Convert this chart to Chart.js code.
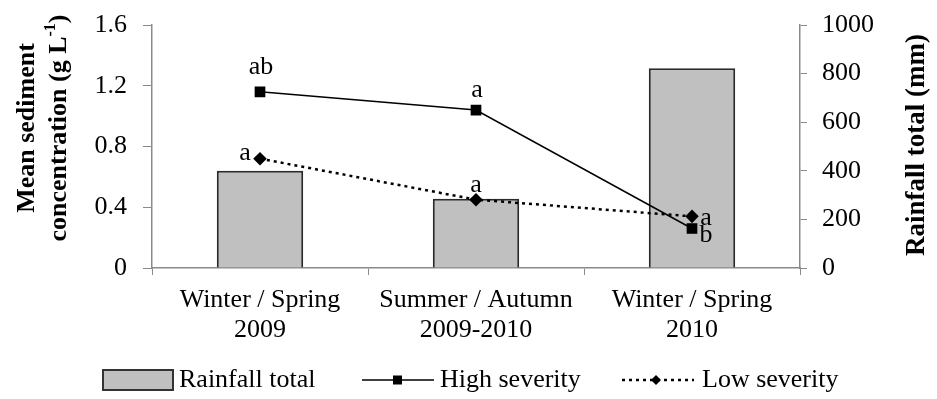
<!DOCTYPE html>
<html>
<head>
<meta charset="utf-8">
<script src="https://cdn.jsdelivr.net/npm/chart.js@4.4.0/dist/chart.umd.min.js"></script>
<style>
  body { margin: 0; background: #fff; }
  canvas { display: block; }
</style>
</head>
<body>
<canvas id="chart" width="937" height="399"></canvas>
<script>
// data
const seasons = [['Winter / Spring', '2009'], ['Summer / Autumn', '2009-2010'], ['Winter / Spring', '2010']];
const rainfall = [400, 285, 822];
const highSeverity = [1.16, 1.04, 0.26];
const lowSeverity = [0.72, 0.45, 0.34];
const highLetters = ['ab', 'a', 'b'];
const lowLetters = ['a', 'a', 'a'];
const sedimentTicks = [0, 0.4, 0.8, 1.2, 1.6];
const rainTicks = [0, 200, 400, 600, 800, 1000];

const SERIF = "'Liberation Serif', 'Times New Roman', serif";
const axisGray = '#8a8a8a';

// letters next to the points, offsets in px from each point
const letterOffsets = {
    1: [[1, -25], [1, -20], [14, 7]],
    2: [[-15, -5], [0, -14], [14, 2]]
};

const extras = {
    id: 'extras',
    afterDatasetsDraw(chart) {
        const ctx = chart.ctx;
        ctx.save();
        ctx.fillStyle = '#000';
        ctx.font = '26px ' + SERIF;
        ctx.textAlign = 'center';
        ctx.textBaseline = 'middle';
        [[1, highLetters], [2, lowLetters]].forEach(([idx, letters]) => {
            const meta = chart.getDatasetMeta(idx);
            meta.data.forEach((pt, i) => {
                const off = letterOffsets[idx][i];
                ctx.fillText(letters[i], pt.x + off[0], pt.y + off[1]);
            });
        });
        ctx.restore();
    },
    afterDraw(chart) {
        const ctx = chart.ctx;
        ctx.save();
        ctx.fillStyle = '#000';

        // left title, two lines, rotated
        ctx.save();
        ctx.translate(27, 128);
        ctx.rotate(-Math.PI / 2);
        ctx.font = 'bold 26px ' + SERIF;
        ctx.textAlign = 'center';
        ctx.textBaseline = 'middle';
        ctx.fillText('Mean sediment', 0, 0);
        // second line with superscript
        const a = 'concentration (g L', sup = '-1', b = ')';
        const wa = ctx.measureText(a).width;
        ctx.font = 'bold 16px ' + SERIF;
        const ws = ctx.measureText(sup).width;
        ctx.font = 'bold 26px ' + SERIF;
        const wb = ctx.measureText(b).width;
        let x0 = -(wa + ws + wb) / 2;
        ctx.textAlign = 'left';
        ctx.fillText(a, x0, 32);
        ctx.font = 'bold 16px ' + SERIF;
        ctx.fillText(sup, x0 + wa, 24);
        ctx.font = 'bold 26px ' + SERIF;
        ctx.fillText(b, x0 + wa + ws, 32);
        ctx.restore();

        // right title
        ctx.save();
        ctx.translate(917, 145);
        ctx.rotate(-Math.PI / 2);
        ctx.font = 'bold 27px ' + SERIF;
        ctx.textAlign = 'center';
        ctx.textBaseline = 'middle';
        ctx.fillText('Rainfall total (mm)', 0, 0);
        ctx.restore();

        // legend
        const ly = 380;
        ctx.font = '26px ' + SERIF;
        ctx.textAlign = 'left';
        ctx.textBaseline = 'middle';

        ctx.fillStyle = '#c0c0c0';
        ctx.fillRect(103, ly - 10, 70, 20);
        ctx.strokeStyle = '#333';
        ctx.lineWidth = 2;
        ctx.strokeRect(103, ly - 10, 70, 20);
        ctx.fillStyle = '#000';
        ctx.fillText('Rainfall total', 179, ly);

        ctx.strokeStyle = '#000';
        ctx.lineWidth = 1.5;
        ctx.beginPath();
        ctx.moveTo(362, ly);
        ctx.lineTo(434, ly);
        ctx.stroke();
        ctx.fillRect(393, ly - 4.5, 9, 9);
        ctx.fillText('High severity', 440, ly);

        ctx.lineWidth = 2.5;
        ctx.setLineDash([3, 4]);
        ctx.beginPath();
        ctx.moveTo(622, ly);
        ctx.lineTo(694, ly);
        ctx.stroke();
        ctx.setLineDash([]);
        ctx.beginPath();
        ctx.moveTo(656, ly - 5);
        ctx.lineTo(661, ly);
        ctx.lineTo(656, ly + 5);
        ctx.lineTo(651, ly);
        ctx.closePath();
        ctx.fill();
        ctx.fillText('Low severity', 702, ly);

        ctx.restore();
    }
};

// fixed axis box sizes so the plot area sits where it does in the figure
function fixY(width) {
    return s => {
        s.width = width;
        s.paddingTop = 0;
        s.paddingBottom = 0;
    };
}

new Chart(document.getElementById('chart'), {
    type: 'bar',
    data: {
        labels: seasons,
        datasets: [{
            label: 'Rainfall total',
            data: rainfall,
            yAxisID: 'y1',
            backgroundColor: '#c0c0c0',
            borderColor: '#2a2a2a',
            borderWidth: 2,
            barPercentage: 0.4,
            categoryPercentage: 1,
            order: 3
        },
        {
            type: 'line',
            label: 'High severity',
            data: highSeverity,
            yAxisID: 'y',
            borderColor: '#000',
            backgroundColor: '#000',
            borderWidth: 1.5,
            pointStyle: 'rect',
            pointRadius: 6.5,
            tension: 0,
            order: 1
        },
        {
            type: 'line',
            label: 'Low severity',
            data: lowSeverity,
            yAxisID: 'y',
            borderColor: '#000',
            backgroundColor: '#000',
            borderWidth: 2.5,
            borderDash: [3, 4],
            pointStyle: 'rectRot',
            pointRadius: 5,
            tension: 0,
            order: 2
        }]
    },
    options: {
        responsive: false,
        animation: false,
        layout: {
            padding: { top: 25, bottom: 51, left: 0, right: 0 }
        },
        plugins: {
            legend: { display: false },
            tooltip: { enabled: false }
        },
        scales: {
            x: {
                afterFit: s => { s.height = 80; },
                grid: {
                    offset: true,
                    drawOnChartArea: false,
                    tickLength: 7,
                    color: axisGray
                },
                border: { color: axisGray, width: 1.5 },
                ticks: {
                    color: '#000',
                    padding: 10,
                    maxRotation: 0,
                    font: { family: SERIF, size: 26, lineHeight: 1.15 }
                }
            },
            y: {
                position: 'left',
                min: 0,
                max: 1.6,
                afterFit: fixY(152),
                afterBuildTicks: s => { s.ticks = sedimentTicks.map(v => ({ value: v })); },
                grid: { drawOnChartArea: false, tickLength: 9, color: axisGray },
                border: { color: axisGray, width: 1.5 },
                ticks: {
                    color: '#000',
                    padding: 16,
                    font: { family: SERIF, size: 26 },
                    callback: v => v === 0 ? '0' : v.toFixed(1)
                }
            },
            y1: {
                position: 'right',
                min: 0,
                max: 1000,
                afterFit: fixY(137),
                afterBuildTicks: s => { s.ticks = rainTicks.map(v => ({ value: v })); },
                grid: { drawOnChartArea: false, tickLength: 7, color: axisGray },
                border: { color: axisGray, width: 1.5 },
                ticks: {
                    color: '#000',
                    padding: 15,
                    font: { family: SERIF, size: 26 },
                    callback: v => String(v)
                }
            }
        }
    },
    plugins: [extras]
});
</script>
</body>
</html>
